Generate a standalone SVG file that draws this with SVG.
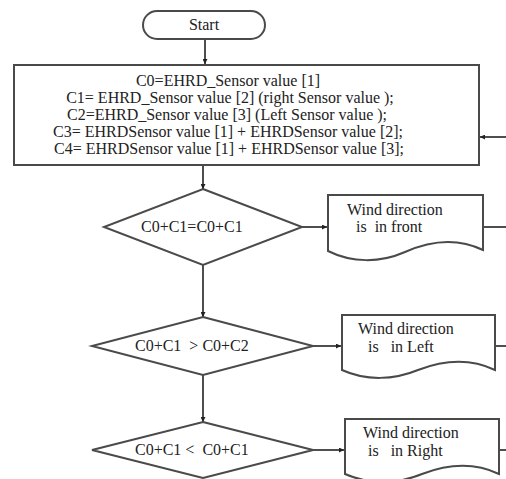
<svg xmlns="http://www.w3.org/2000/svg" width="506" height="479" viewBox="0 0 506 479">
<defs>
<marker id="ah" viewBox="0 0 10 10" refX="10" refY="5" markerWidth="5" markerHeight="5" orient="auto" markerUnits="userSpaceOnUse">
<path d="M0,0 L10,5 L0,10 Z" fill="#222"/>
</marker>
</defs>
<rect width="506" height="479" fill="#fff"/>
<g id="connectors" fill="none" stroke="#222" stroke-width="1.6">
<line x1="205" y1="39" x2="205" y2="64" marker-end="url(#ah)"/>
<line x1="506" y1="137" x2="480" y2="137" marker-end="url(#ah)"/>
<line x1="203" y1="166" x2="203" y2="189" marker-end="url(#ah)"/>
<line x1="302" y1="227" x2="327" y2="227" marker-end="url(#ah)"/>
<line x1="483" y1="227" x2="506" y2="227"/>
<line x1="203" y1="265" x2="203" y2="317" marker-end="url(#ah)"/>
<line x1="313" y1="346" x2="341" y2="346" marker-end="url(#ah)"/>
<line x1="495" y1="346" x2="506" y2="346"/>
<line x1="203" y1="375" x2="203" y2="422" marker-end="url(#ah)"/>
<line x1="313" y1="450" x2="344" y2="450" marker-end="url(#ah)"/>
<line x1="499" y1="450" x2="506" y2="450"/>
</g>
<g id="start">
<rect x="143" y="11" width="122" height="28" rx="14" fill="#fff" stroke="#4a4a4a" stroke-width="2"/>
<text x="204" y="30" font-size="16" font-family="Liberation Serif" fill="#222" text-anchor="middle">Start</text>
</g>
<g id="init">
<rect x="14" y="65" width="465" height="100" fill="#fff" stroke="#4a4a4a" stroke-width="2"/>
<text x="228" y="86" font-size="16" font-family="Liberation Serif" fill="#222" text-anchor="middle">C0=EHRD_Sensor value [1]</text>
<text x="230" y="103" font-size="16" font-family="Liberation Serif" fill="#222" text-anchor="middle">C1= EHRD_Sensor value [2] (right Sensor value );</text>
<text x="227" y="120" font-size="16" font-family="Liberation Serif" fill="#222" text-anchor="middle">C2=EHRD_Sensor value [3] (Left Sensor value );</text>
<text x="228" y="137" font-size="16" font-family="Liberation Serif" fill="#222" text-anchor="middle">C3= EHRDSensor value [1] + EHRDSensor value [2];</text>
<text x="229" y="154" font-size="16" font-family="Liberation Serif" fill="#222" text-anchor="middle">C4= EHRDSensor value [1] + EHRDSensor value [3];</text>
</g>
<g id="cond1">
<polygon points="203,189 302,227 203,265 104,227" fill="#fff" stroke="#4a4a4a" stroke-width="2"/>
<text x="141" y="232" font-size="16" font-family="Liberation Serif" fill="#222" xml:space="preserve">C0+C1=C0+C1</text>
</g>
<g id="out1">
<path d="M328,195 H483 V250 C458,238 432,240 405,252 C380,263 352,263 328,251 Z" fill="#fff" stroke="#4a4a4a" stroke-width="2"/>
<text x="347" y="215" font-size="16" font-family="Liberation Serif" fill="#222" xml:space="preserve">Wind direction</text>
<text x="356" y="232" font-size="16" font-family="Liberation Serif" fill="#222" xml:space="preserve">is  in front</text>
</g>
<g id="cond2">
<polygon points="203,317 313,346 203,375 92,346" fill="#fff" stroke="#4a4a4a" stroke-width="2"/>
<text x="135" y="351" font-size="16" font-family="Liberation Serif" fill="#222" xml:space="preserve">C0+C1  &gt; C0+C2</text>
</g>
<g id="out2">
<path d="M342,315 H495 V370 C470,358 444,360 418,370 C394,380 366,381 342,370 Z" fill="#fff" stroke="#4a4a4a" stroke-width="2"/>
<text x="358" y="334" font-size="16" font-family="Liberation Serif" fill="#222" xml:space="preserve">Wind direction</text>
<text x="368" y="352" font-size="16" font-family="Liberation Serif" fill="#222" xml:space="preserve">is   in Left</text>
</g>
<g id="cond3">
<polygon points="203,422 313,450 203,478 92,450" fill="#fff" stroke="#4a4a4a" stroke-width="2"/>
<text x="135" y="455" font-size="16" font-family="Liberation Serif" fill="#222" xml:space="preserve">C0+C1 &lt;  C0+C1</text>
</g>
<g id="out3">
<path d="M345,419 H499 V474 C474,462 448,464 422,474 C398,484 370,485 345,474 Z" fill="#fff" stroke="#4a4a4a" stroke-width="2"/>
<text x="363" y="438" font-size="16" font-family="Liberation Serif" fill="#222" xml:space="preserve">Wind direction</text>
<text x="368" y="456" font-size="16" font-family="Liberation Serif" fill="#222" xml:space="preserve">is   in Right</text>
</g>
</svg>
